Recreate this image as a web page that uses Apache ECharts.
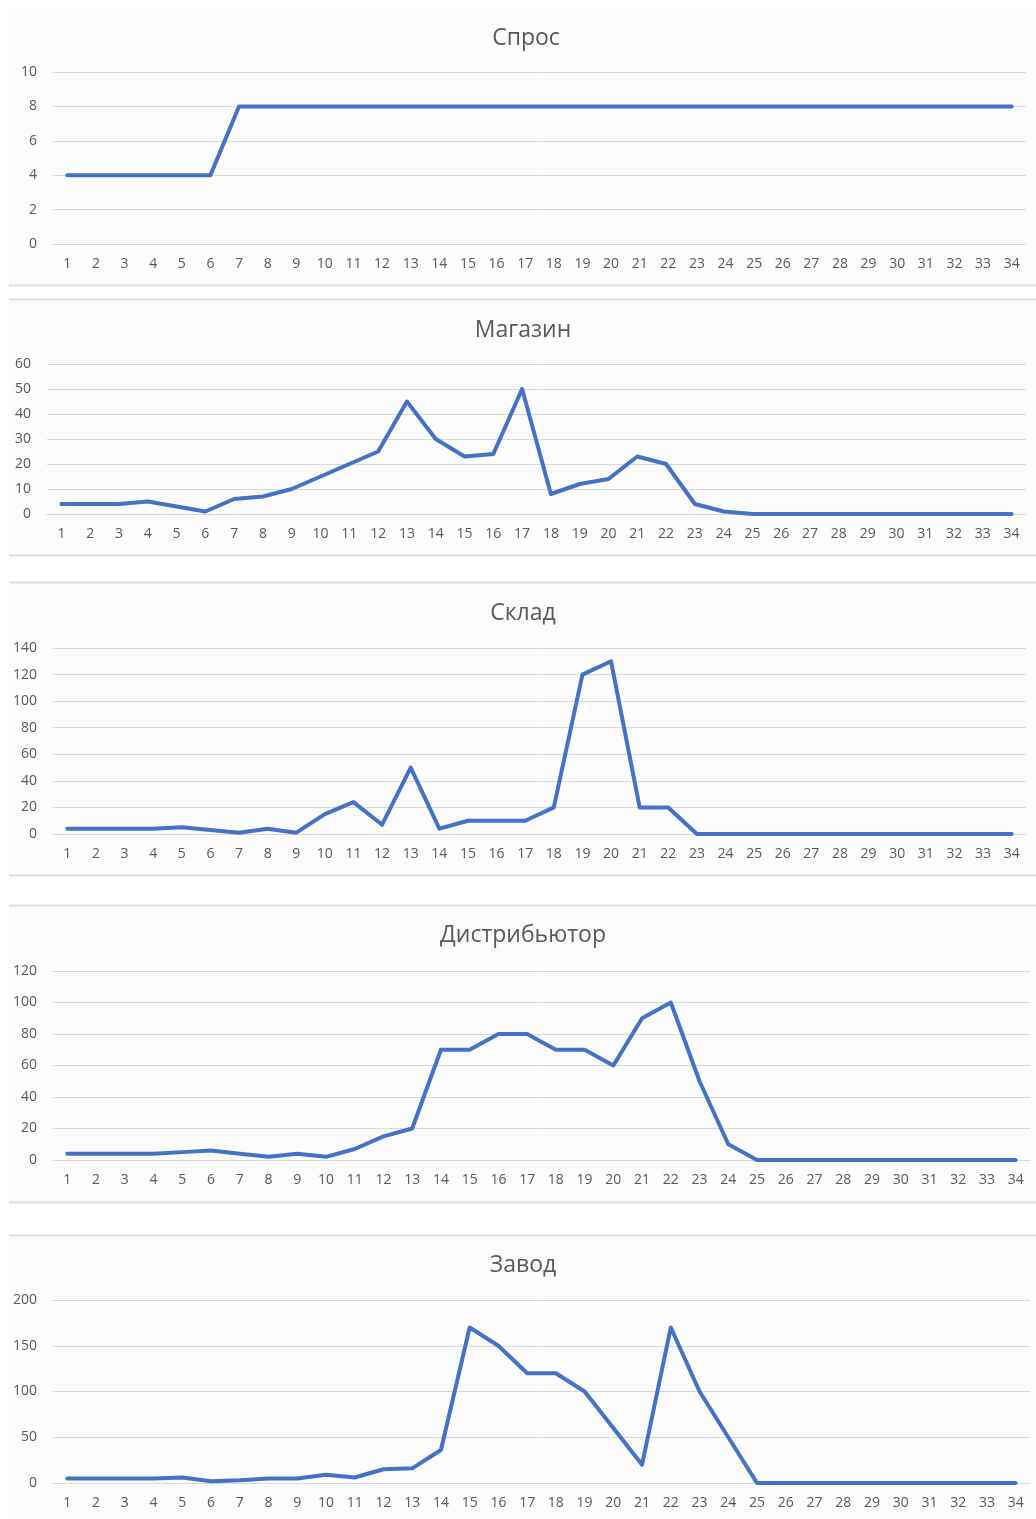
<!DOCTYPE html>
<html>
<head>
<meta charset="utf-8">
<title>Спрос, Магазин, Склад, Дистрибьютор, Завод</title>
<script src="https://cdn.jsdelivr.net/npm/echarts@6/dist/echarts.min.js"></script>
<style>
  html, body { margin: 0; padding: 0; background: #ffffff; }
  #chart { width: 1036px; height: 1519px; }
</style>
</head>
<body>
<div id="chart"></div>
<script>
// Weeks 1..34
const weeks = Array.from({ length: 34 }, (_, i) => String(i + 1));

const titles = ['Спрос', 'Магазин', 'Склад', 'Дистрибьютор', 'Завод'];

const demand = [4, 4, 4, 4, 4, 4, 8, 8, 8, 8, 8, 8, 8, 8, 8, 8, 8,
  8, 8, 8, 8, 8, 8, 8, 8, 8, 8, 8, 8, 8, 8, 8, 8, 8];

const shop = [4, 4, 4, 5, 3, 1, 6, 7, 10, 15, 20, 25, 45, 30, 23, 24, 50,
  8, 12, 14, 23, 20, 4, 1, 0, 0, 0, 0, 0, 0, 0, 0, 0, 0];

const warehouse = [4, 4, 4, 4, 5, 3, 1, 4, 1, 15, 24, 7, 50, 4, 10, 10, 10,
  20, 120, 130, 20, 20, 0, 0, 0, 0, 0, 0, 0, 0, 0, 0, 0, 0];

const distributor = [4, 4, 4, 4, 5, 6, 4, 2, 4, 2, 7, 15, 20, 70, 70, 80, 80,
  70, 70, 60, 90, 100, 50, 10, 0, 0, 0, 0, 0, 0, 0, 0, 0, 0];

const factory = [5, 5, 5, 5, 6, 2, 3, 5, 5, 9, 6, 15, 16, 36, 170, 150, 120,
  120, 100, 60, 20, 170, 100, 50, 0, 0, 0, 0, 0, 0, 0, 0, 0, 0];

const yMax = [10, 60, 140, 120, 200];
const yStep = [2, 10, 20, 20, 50];

const seriesData = [demand, shop, warehouse, distributor, factory];

// Panel geometry: plot area, title anchor and panel frame for each chart
const panels = [
  { top: 72, height: 172, left: 53, right: 10, titleX: 526, titleY: 38, frameTop: 8, frameBottom: 285 },
  { top: 364, height: 150, left: 47, right: 10, titleX: 523, titleY: 330, frameTop: 299, frameBottom: 555 },
  { top: 648, height: 186, left: 53, right: 10, titleX: 523, titleY: 613, frameTop: 582, frameBottom: 875 },
  { top: 971, height: 189, left: 53, right: 6, titleX: 523, titleY: 935, frameTop: 905, frameBottom: 1202 },
  { top: 1300, height: 183, left: 53, right: 6, titleX: 523, titleY: 1265, frameTop: 1235, frameBottom: 1519 }
];

const FONT = '"Open Sans", "Noto Sans", sans-serif';
const TEXT = '#595959';
const GRID_LINE = '#d9d9d9';
const LINE = '#4472c4';

const option = {
  animation: false,
  backgroundColor: '#ffffff',
  grid: panels.map(p => ({
    left: p.left, right: p.right, top: p.top, height: p.height, containLabel: false
  })),
  xAxis: panels.map((p, i) => ({
    type: 'category',
    gridIndex: i,
    data: weeks,
    boundaryGap: true,
    axisLine: { show: true, lineStyle: { color: GRID_LINE, width: 1 } },
    axisTick: { show: false },
    axisLabel: {
      interval: 0, margin: 13,
      fontFamily: FONT, fontSize: 14, color: TEXT
    }
  })),
  yAxis: panels.map((p, i) => ({
    type: 'value',
    gridIndex: i,
    min: 0,
    max: yMax[i],
    interval: yStep[i],
    axisLine: { show: false },
    axisTick: { show: false },
    splitLine: { show: true, lineStyle: { color: GRID_LINE, width: 1 } },
    axisLabel: { margin: 16, fontFamily: FONT, fontSize: 14, color: TEXT }
  })),
  series: seriesData.map((d, i) => ({
    name: titles[i],
    type: 'line',
    xAxisIndex: i,
    yAxisIndex: i,
    data: d,
    symbol: 'none',
    smooth: false,
    lineStyle: { color: LINE, width: 4, cap: 'round', join: 'round' },
    z: 3
  })),
  graphic: [
    // panel backgrounds
    ...panels.map(p => ({
      type: 'rect',
      silent: true,
      z: -10,
      shape: { x: 9, y: p.frameTop, width: 1027, height: p.frameBottom - p.frameTop },
      style: { fill: '#fcfcfc' }
    })),
    // panel frame edges between charts
    ...panels.flatMap((p, i) => {
      const lines = [];
      if (i > 0) lines.push(p.frameTop);
      if (i < panels.length - 1) lines.push(p.frameBottom);
      return lines.map(y => ({
        type: 'line',
        silent: true,
        z: -5,
        shape: { x1: 9, y1: y + 0.5, x2: 1036, y2: y + 0.5 },
        style: { stroke: '#e0e0e0', lineWidth: 2 }
      }));
    }),
    // chart titles
    ...panels.map((p, i) => ({
      type: 'text',
      silent: true,
      z: 5,
      x: p.titleX,
      y: p.titleY,
      style: {
        text: titles[i],
        align: 'center',
        verticalAlign: 'middle',
        font: 'normal 23px ' + FONT,
        fill: TEXT
      }
    }))
  ]
};

const chart = echarts.init(document.getElementById('chart'), null, { renderer: 'canvas' });
chart.setOption(option);
</script>
</body>
</html>
